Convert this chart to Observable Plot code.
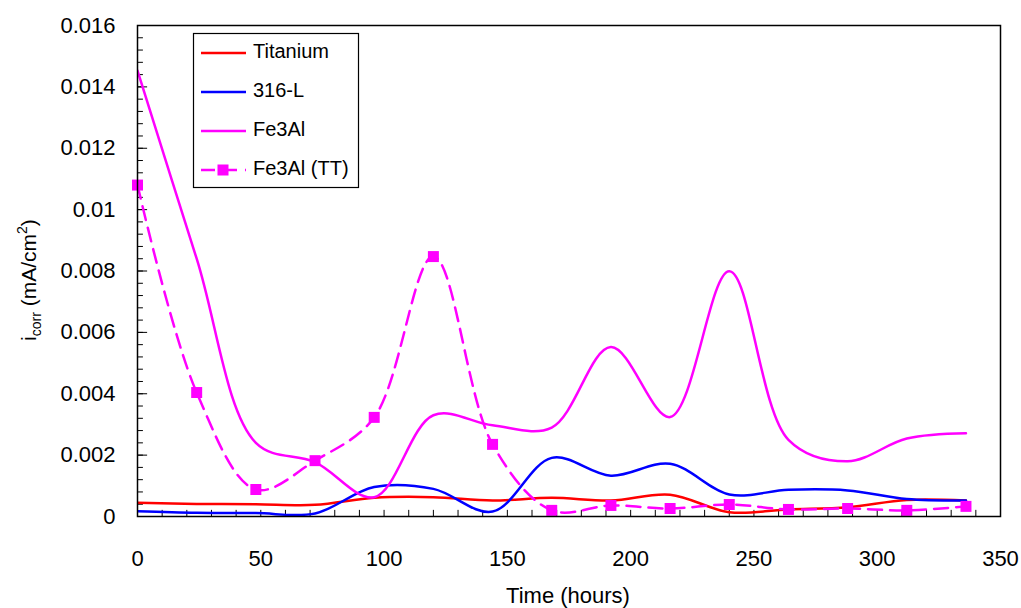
<!DOCTYPE html>
<html>
<head>
<meta charset="utf-8">
<script src="https://cdn.jsdelivr.net/npm/d3@7"></script>
<script src="https://cdn.jsdelivr.net/npm/@observablehq/plot@0.6"></script>
<style>
  html, body { margin: 0; padding: 0; background: white; }
</style>
</head>
<body>
<div id="chart"></div>
<script>
const hours = [0, 24, 48, 72, 96, 120, 144, 168, 192, 216, 240, 264, 288, 312, 336];
const titanium = [0.00045, 0.00041, 0.0004, 0.00038, 0.00061, 0.00063, 0.00052, 0.00061, 0.00052, 0.00071, 0.00014, 0.00023, 0.0003, 0.00054, 0.00052];
const ss316L = [0.00017, 0.00012, 0.00011, 0.0001, 0.00096, 0.0009, 0.00016, 0.00191, 0.00133, 0.00172, 0.00072, 0.00087, 0.00085, 0.00057, 0.00052];
const fe3al = [0.01453, 0.0084, 0.0024, 0.00177, 0.00063, 0.0033, 0.00297, 0.0029, 0.00552, 0.00324, 0.00799, 0.0025, 0.0018, 0.00254, 0.00271];
const fe3alTT = [0.0108, 0.00404, 0.00088, 0.00182, 0.00323, 0.00847, 0.00235, 0.0002, 0.00036, 0.00026, 0.00039, 0.00023, 0.00026, 0.0002, 0.00033];

const seriesNames = ["Titanium", "316-L", "Fe3Al", "Fe3Al (TT)"];
const seriesColors = ["#ff0000", "#0000ff", "#ff00ff", "#ff00ff"];

const xTicks = [0, 50, 100, 150, 200, 250, 300, 350];
const yTicks = [0, 0.002, 0.004, 0.006, 0.008, 0.01, 0.012, 0.014, 0.016];
const xMinor = d3.range(0, 351, 10);
const yMinor = d3.range(0, 0.01601, 0.0004);

const xLabel = "Time (hours)";

const toRows = (vals) => hours.map((h, i) => ({h, v: vals[i]}));

const font = "'Liberation Sans', Arial, sans-serif";
const curve = "catmull-rom";

const chart = Plot.plot({
  width: 1021,
  height: 608,
  marginLeft: 137,
  marginRight: 21,
  marginTop: 25,
  marginBottom: 92,
  style: {fontFamily: font, fontSize: "22px", background: "white", color: "black", overflow: "visible"},
  x: {domain: [0, 350]},
  y: {domain: [0, 0.016]},
  marks: [
    Plot.axisX(xTicks, {tickSize: 0, tickPadding: 34, label: null, fontSize: 22, tickFormat: d => String(d)}),
    Plot.axisY(yTicks, {tickSize: 0, tickPadding: 22, label: null, fontSize: 22, tickFormat: d => String(d)}),
    Plot.ruleX(xMinor, {x: d => d, y1: 0, y2: 0.0002, stroke: "black", strokeWidth: 1}),
    Plot.ruleY(yMinor, {y: d => d, x1: 0, x2: 2.4, stroke: "black", strokeWidth: 1}),
    Plot.ruleY(yTicks, {y: d => d, x1: 0, x2: 4.1, stroke: "black", strokeWidth: 1}),
    Plot.line(toRows(titanium), {x: "h", y: "v", stroke: seriesColors[0], strokeWidth: 2.5, curve, clip: true}),
    Plot.line(toRows(ss316L), {x: "h", y: "v", stroke: seriesColors[1], strokeWidth: 2.5, curve, clip: true}),
    Plot.line(toRows(fe3al), {x: "h", y: "v", stroke: seriesColors[2], strokeWidth: 2.5, curve, clip: true}),
    Plot.line(toRows(fe3alTT), {x: "h", y: "v", stroke: seriesColors[3], strokeWidth: 2.5, strokeDasharray: "14,8", curve, clip: true}),
    Plot.dot(toRows(fe3alTT), {x: "h", y: "v", symbol: "square", r: 6.2, fill: seriesColors[3], stroke: "none"}),
    Plot.frame({stroke: "black", strokeWidth: 1.5})
  ]
});

document.getElementById("chart").appendChild(chart);

const svg = d3.select(chart);

// x-axis title
svg.append("text")
  .attr("x", 568).attr("y", 597)
  .attr("text-anchor", "middle").attr("dominant-baseline", "middle")
  .attr("font-family", font).attr("font-size", 22).attr("fill", "black")
  .text(xLabel);

// y-axis title with subscript and superscript
const yl = svg.append("text")
  .attr("transform", "translate(36,280) rotate(-90)")
  .attr("text-anchor", "middle")
  .attr("font-family", font).attr("font-size", 21).attr("fill", "black");
yl.append("tspan").text("i");
yl.append("tspan").attr("dy", 5).attr("font-size", 14).text("corr");
yl.append("tspan").attr("dy", -5).text(" (mA/cm");
yl.append("tspan").attr("dy", -9).attr("font-size", 14).text("2");
yl.append("tspan").attr("dy", 9).text(")");

// legend
const lg = svg.append("g");
lg.append("rect").attr("x", 193.5).attr("y", 33.5).attr("width", 165).attr("height", 154)
  .attr("fill", "white").attr("stroke", "black").attr("stroke-width", 1.2);
const rowsY = [53, 92, 131, 170];
seriesNames.forEach((name, i) => {
  const y = rowsY[i];
  lg.append("line").attr("x1", 201).attr("x2", 246).attr("y1", y).attr("y2", y)
    .attr("stroke", seriesColors[i]).attr("stroke-width", 2.5)
    .attr("stroke-dasharray", i === 3 ? "14,8" : null);
  if (i === 3) {
    lg.append("rect").attr("x", 217.5).attr("y", y - 5.5).attr("width", 11).attr("height", 11).attr("fill", seriesColors[i]);
  }
  lg.append("text").attr("x", 253).attr("y", y)
    .attr("text-anchor", "start")
    .attr("dominant-baseline", "middle")
    .attr("font-family", font).attr("font-size", 20).attr("fill", "black")
    .text(name);
});
</script>
</body>
</html>
